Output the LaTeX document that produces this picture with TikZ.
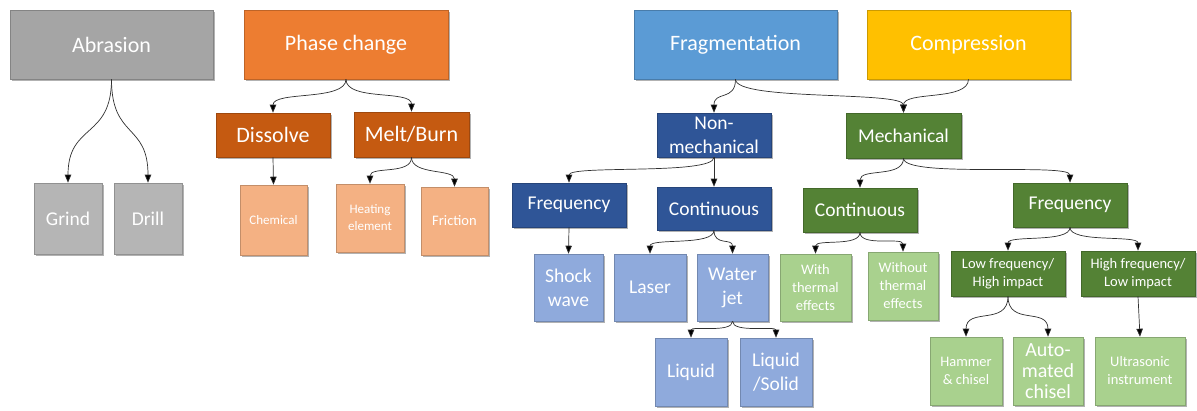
\documentclass[tikz,border=0pt]{standalone}
\usepackage{fontspec}
\setmainfont{Carlito}
\usetikzlibrary{arrows.meta,shadows}
\definecolor{cgray}{HTML}{A5A5A5}
\definecolor{cgrayl}{HTML}{B5B5B5}
\definecolor{corange}{HTML}{ED7D31}
\definecolor{corangeD}{HTML}{C55A11}
\definecolor{corangeL}{HTML}{F4B183}
\definecolor{cblue}{HTML}{5B9BD5}
\definecolor{cblueD}{HTML}{2F5597}
\definecolor{cblueL}{HTML}{8FAADC}
\definecolor{cgold}{HTML}{FFC000}
\definecolor{cgreenD}{HTML}{548235}
\definecolor{cgreenL}{HTML}{A9D18E}
\definecolor{cline}{HTML}{303030}
\tikzset{
  box/.style={draw=#1!80!black, fill=#1, line width=0.6pt, text=white, align=center,
    inner sep=1pt, drop shadow={shadow xshift=1.5pt,shadow yshift=-1.5pt,opacity=0.3,fill=black}},
  sz/.style 2 args={minimum width=#1pt, minimum height=#2pt},
  fA/.style={font=\fontsize{22}{26}\selectfont},
  fB/.style={font=\fontsize{19.5}{24}\selectfont},
  fC/.style={font=\fontsize{13}{17}\selectfont},
  fD/.style={font=\fontsize{14.5}{18}\selectfont},
  conn/.style={draw=cline, line width=0.7pt, -{Triangle[length=8pt,width=6.5pt,fill=black]}},
}
\begin{document}
\begin{tikzpicture}[x=1pt,y=-1pt]
\useasboundingbox[fill=white] (0,0) rectangle (1197,410);
% top row
\node[box=cgray, fA, sz={203}{69}] (abr) at (111.5,44.5) {Abrasion};
\node[box=corange, fA, sz={204}{69}] (phase) at (346,44.5) {Phase change};
\node[box=cblue, fA, sz={203}{69}] (frag) at (735.5,44.5) {Fragmentation};
\node[box=cgold, fA, sz={203}{69}] (comp) at (968.5,44.5) {Compression};
% abrasion
\node[box=cgrayl, fB, sz={68}{71}] (grind) at (68,218.5) {Grind};
\node[box=cgrayl, fB, sz={68}{71}] (drill) at (148,218.5) {Drill};
% phase change
\node[box=corangeD, fA, sz={114}{44}] (dis) at (273,135) {Dissolve};
\node[box=corangeD, fA, sz={115}{45}] (melt) at (411.5,134.5) {Melt/Burn};
\node[box=corangeL, fC, sz={67}{70}] (chem) at (273.5,220) {Chemical};
\node[box=corangeL, fC, sz={68}{68}] (heat) at (370,218) {Heating\\element};
\node[box=corangeL, fD, sz={67}{68}] (fric) at (454.5,221) {Friction};
% fragmentation
\node[box=cblueD, fB, sz={114}{44}] (nonmech) at (714,135) {Non-\\mechanical};
\node[box=cgreenD, fB, sz={115}{45}] (mech) at (903.5,135.5) {Mechanical};
\node[box=cblueD, fB, sz={114}{44}] (freqb) at (569,205) {Frequency};
\node[box=cblueD, fB, sz={114}{43}] (contb) at (714,208.5) {Continuous};
\node[box=cgreenD, fB, sz={114}{44}] (contg) at (860,210) {Continuous};
\node[box=cgreenD, fB, sz={114}{44}] (freqg) at (1070,205) {Frequency};
\node[box=cgreenD, fD, sz={114}{45}] (low) at (1008,273.5) {Low frequency/\\High impact};
\node[box=cgreenD, fD, sz={114}{45}] (high) at (1138,273.5) {High frequency/\\Low impact};
\node[box=cgreenL, fD, sz={71}{67}] (with) at (815.5,287.5) {With\\thermal\\effects};
\node[box=cgreenL, fD, sz={70}{68}] (without) at (903,286) {Without\\thermal\\effects};
\node[box=cblueL, fB, sz={69}{67}] (shock) at (568.5,287.5) {Shock\\wave};
\node[box=cblueL, fB, sz={72}{67}] (laser) at (650,287.5) {Laser};
\node[box=cblueL, fB, sz={71}{67}] (water) at (732.5,287.5) {Water\\jet};
\node[box=cblueL, fB, sz={72}{68}] (liquid) at (691,372) {Liquid};
\node[box=cblueL, fB, sz={72}{68}] (liqsol) at (776,372) {Liquid\\/Solid};
\node[box=cgreenL, fD, sz={72}{68}] (hammer) at (966,371) {Hammer\\\&~chisel};
\node[box=cgreenL, font=\fontsize{20}{21}\selectfont, sz={70}{68}] (auto) at (1048,371) {Auto-\\mated\\chisel};
\node[box=cgreenL, fD, sz={90}{68}] (ultra) at (1140,371) {Ultrasonic\\instrument};
% connectors
\draw[conn] (abr.south) .. controls +(0,60) and +(0,-60) .. (grind.north);
\draw[conn] (abr.south) .. controls +(0,60) and +(0,-60) .. (drill.north);
\draw[conn] (phase.south) .. controls +(0,22) and +(0,-22) .. (dis.north);
\draw[conn] (phase.south) .. controls +(0,22) and +(0,-22) .. (melt.north);
\draw[conn] (dis.south) -- (chem.north);
\draw[conn] (melt.south) .. controls +(0,18) and +(0,-18) .. (heat.north);
\draw[conn] (melt.south) .. controls +(0,18) and +(0,-18) .. (fric.north);
\draw[conn] (frag.south) .. controls +(0,22) and +(0,-22) .. (nonmech.north);
\draw[conn] (frag.south) .. controls +(0,22) and +(0,-22) .. (mech.north);
\draw[conn] (comp.south) .. controls +(0,22) and +(0,-22) .. (mech.north);
\draw[conn] (nonmech.south) .. controls +(0,18) and +(0,-18) .. (freqb.north);
\draw[conn] (nonmech.south) -- (contb.north);
\draw[conn] (freqb.south) -- (shock.north);
\draw[conn] (contb.south) .. controls +(0,16) and +(0,-16) .. (laser.north);
\draw[conn] (contb.south) .. controls +(0,16) and +(0,-16) .. (water.north);
\draw[conn] (water.south) .. controls +(0,12) and +(0,-12) .. (liquid.north);
\draw[conn] (water.south) .. controls +(0,12) and +(0,-12) .. (liqsol.north);
\draw[conn] (mech.south) .. controls +(0,20) and +(0,-20) .. (contg.north);
\draw[conn] (mech.south) .. controls +(0,20) and +(0,-20) .. (freqg.north);
\draw[conn] (contg.south) .. controls +(0,15) and +(0,-15) .. (with.north);
\draw[conn] (contg.south) .. controls +(0,15) and +(0,-15) .. (without.north);
\draw[conn] (freqg.south) .. controls +(0,16) and +(0,-16) .. (low.north);
\draw[conn] (freqg.south) .. controls +(0,16) and +(0,-16) .. (high.north);
\draw[conn] (low.south) .. controls +(0,30) and +(0,-30) .. (hammer.north);
\draw[conn] (low.south) .. controls +(0,30) and +(0,-30) .. (auto.north);
\draw[conn] (high.south) -- (ultra.north);
\end{tikzpicture}
\end{document}
